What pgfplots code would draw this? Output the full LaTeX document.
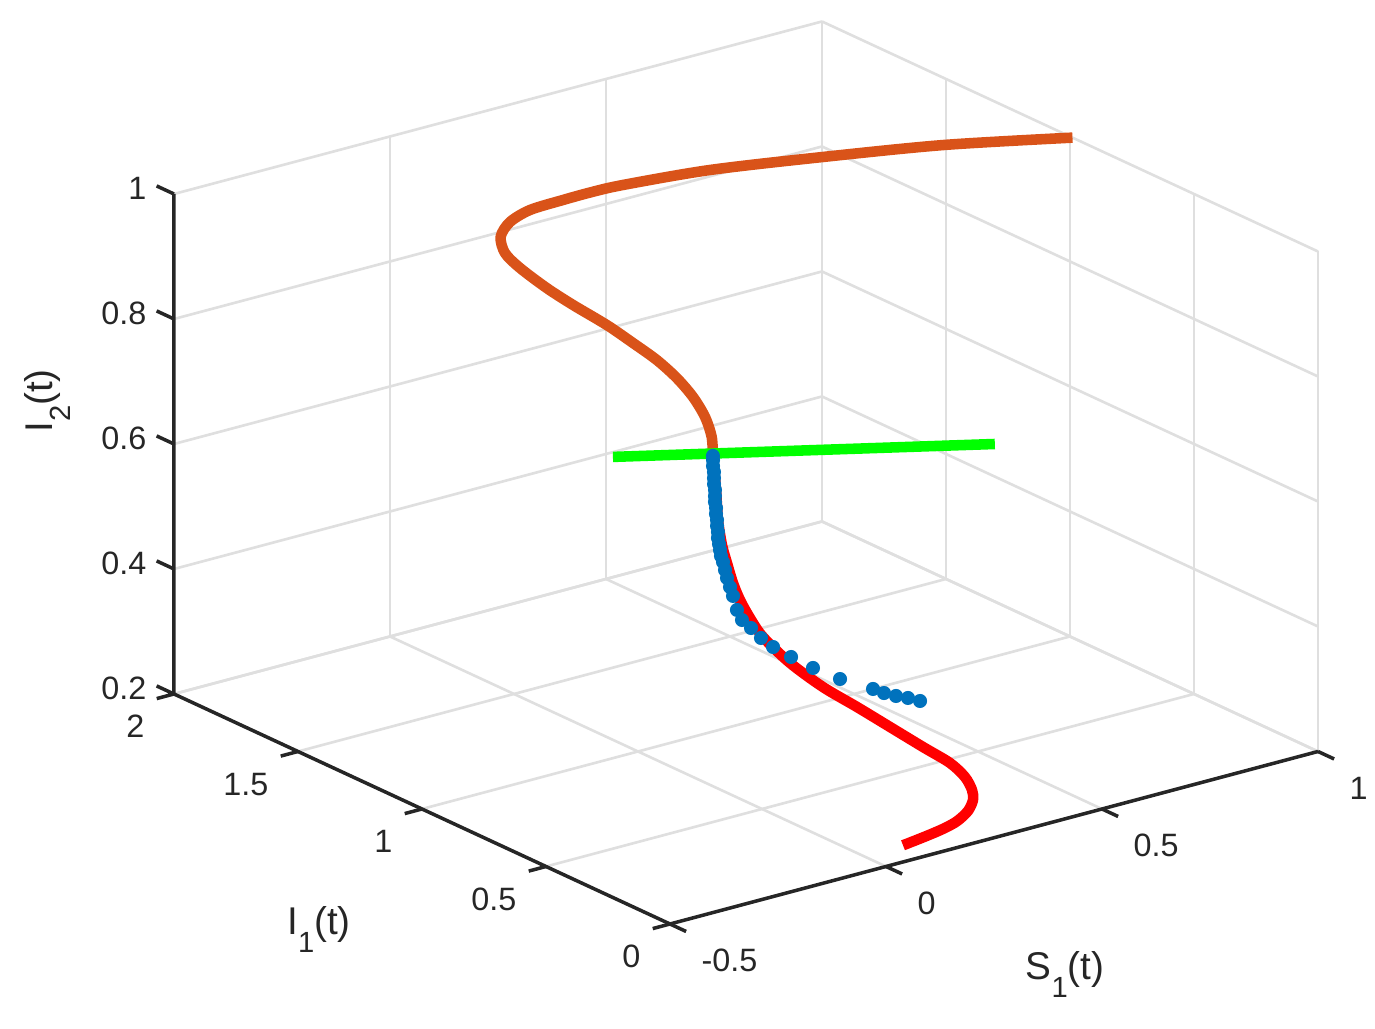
\documentclass[border=0pt]{standalone}
\usepackage{fontspec}
\setmainfont{Liberation Sans}
\usepackage{pgfplots}
\pgfplotsset{compat=1.18}
\usetikzlibrary{calc}
\definecolor{axiscol}{RGB}{38,38,38}
\definecolor{gridcol}{RGB}{223,223,223}
\definecolor{mOrange}{RGB}{217,83,25}
\definecolor{mBlue}{RGB}{0,114,189}
\definecolor{mRed}{RGB}{255,0,0}
\definecolor{mGreen}{RGB}{0,255,0}
\newcommand{\tickfont}{\fontsize{9.2}{11}\selectfont}
\newcommand{\labfont}{\fontsize{11}{13}\selectfont}
\newcommand{\sub}[1]{\raisebox{-5pt}{\fontsize{8.3}{10}\selectfont #1}}

\begin{document}
\begin{tikzpicture}
\begin{axis}[
  x={(4.32cm,1.15cm)}, y={(-2.48cm,1.15cm)}, z={(0cm,6.25cm)},
  xmin=-0.5, xmax=1, ymin=0, ymax=2, zmin=0.2, zmax=1,
  xtick={-0.5,0,0.5,1}, ytick={0,0.5,1,1.5,2}, ztick={0.2,0.4,0.6,0.8,1},
  xticklabels={}, yticklabels={}, zticklabels={},
  major tick length=0pt,
  grid=major, major grid style={gridcol, line width=0.75pt},
  axis line style={draw=none},
  clip=false,
]
  % orange trajectory, from (1,1,1) to the equilibrium
  \addplot3[mOrange, line width=3pt, smooth, line join=round] coordinates {
    (1.0,0.99,1.0) (0.8075,1.1729,0.99) (0.6113,1.3191,0.98) (0.4238,1.4479,0.97)
    (0.2681,1.5276,0.96) (0.2101,1.5516,0.955) (0.1522,1.5674,0.95) (0.0918,1.5952,0.94)
    (0.0441,1.5929,0.93) (0.0036,1.5599,0.92) (-0.0022,1.5326,0.90) (0.012,1.4967,0.88)
    (0.0373,1.4331,0.855) (0.0718,1.3869,0.83) (0.1174,1.3304,0.80) (0.1484,1.2786,0.775)
    (0.179,1.2362,0.75) (0.2009,1.1939,0.725) (0.2141,1.1511,0.70) (0.208,1.092,0.68)
    (0.194,1.0408,0.66) (0.1734,1.0,0.641)
  };
  % red trajectory
  \addplot3[mRed, line width=3pt, smooth, line join=round] coordinates {
    (0.1734,1.0,0.641) (0.1634,0.97,0.5938) (0.1507,0.94,0.5538) (0.1428,0.91,0.5206)
    (0.1371,0.88,0.4984) (0.1338,0.85,0.4726) (0.1328,0.82,0.451) (0.1329,0.78,0.4296)
    (0.14,0.74,0.4053) (0.1567,0.66,0.3754) (0.187,0.58,0.346) (0.22,0.5,0.3227)
    (0.2505,0.42,0.2998) (0.2808,0.34,0.277) (0.3088,0.28,0.2573) (0.3206,0.24,0.24)
    (0.3197,0.21,0.2249) (0.3047,0.18,0.2173) (0.2787,0.155,0.209) (0.2389,0.13,0.2045)
    (0.1951,0.11,0.2040) (0.1449,0.095,0.2037) (0.0853,0.08,0.2035)
  };
  % blue points
  \addplot3[only marks, mark=*, mark size=1.8pt, mBlue, mark options={draw=mBlue, fill=mBlue}] coordinates {
    (0.1734,1.0,0.641) (0.1725,0.998,0.635) (0.1685,0.991,0.6274) (0.1667,0.984,0.6194)
    (0.1627,0.977,0.6118) (0.1588,0.970,0.6042) (0.157,0.963,0.5963) (0.1535,0.957,0.5883)
    (0.1495,0.950,0.5809) (0.1479,0.943,0.573) (0.1438,0.936,0.5654) (0.1421,0.929,0.5574)
    (0.1382,0.922,0.5498) (0.1363,0.915,0.5418) (0.1329,0.909,0.5339) (0.1313,0.902,0.5259)
    (0.1296,0.895,0.5179) (0.1278,0.888,0.5099) (0.1285,0.881,0.5014) (0.1268,0.87,0.491)
    (0.1257,0.86,0.4802) (0.1269,0.85,0.4674) (0.1252,0.835,0.4562) (0.1229,0.815,0.4379)
    (0.1259,0.80,0.424) (0.1382,0.785,0.4117) (0.1498,0.765,0.3973) (0.1662,0.745,0.3835)
    (0.1935,0.72,0.3671) (0.2271,0.69,0.3489) (0.2667,0.65,0.3313) (0.3201,0.61,0.3129)
    (0.3398,0.60,0.3046) (0.3618,0.59,0.2977) (0.3838,0.58,0.2923) (0.406,0.57,0.2852)
  };
  % green segment
  \addplot3[mGreen, line width=3pt] coordinates {(-0.058,1,0.682) (0.826,1,0.540)};

  % front axes, ticks and tick labels
  \coordinate (A) at (axis cs:-0.5,0,0.2);
  \draw[axiscol, line width=1pt, line join=miter] (axis cs:1,0,0.2) -- (axis cs:-0.5,0,0.2)
    -- (axis cs:-0.5,2,0.2) -- (axis cs:-0.5,2,1);
  \draw[axiscol, line width=1pt]
    (axis cs:-0.5,0,0.2) -- (axis cs:-0.5,-0.065,0.2)
    (axis cs:0,0,0.2) -- (axis cs:0,-0.065,0.2)
    (axis cs:0.5,0,0.2) -- (axis cs:0.5,-0.065,0.2)
    (axis cs:1,0,0.2) -- (axis cs:1,-0.065,0.2)
    (axis cs:-0.5,0,0.2) -- (axis cs:-0.54,0,0.2)
    (axis cs:-0.5,0.5,0.2) -- (axis cs:-0.54,0.5,0.2)
    (axis cs:-0.5,1,0.2) -- (axis cs:-0.54,1,0.2)
    (axis cs:-0.5,1.5,0.2) -- (axis cs:-0.54,1.5,0.2)
    (axis cs:-0.5,2,0.2) -- (axis cs:-0.54,2,0.2)
    (axis cs:-0.5,2,0.2) -- (axis cs:-0.5,2.07,0.2)
    (axis cs:-0.5,2,0.4) -- (axis cs:-0.5,2.07,0.4)
    (axis cs:-0.5,2,0.6) -- (axis cs:-0.5,2.07,0.6)
    (axis cs:-0.5,2,0.8) -- (axis cs:-0.5,2.07,0.8)
    (axis cs:-0.5,2,1) -- (axis cs:-0.5,2.07,1);
  \begin{scope}[every node/.style={font=\tickfont, text=axiscol, inner sep=0pt}]
    \node[anchor=base west, xshift=0.31cm, yshift=-0.48cm] at (axis cs:-0.5,0,0.2) {-0.5};
    \node[anchor=base west, xshift=0.31cm, yshift=-0.48cm] at (axis cs:0,0,0.2) {0};
    \node[anchor=base west, xshift=0.31cm, yshift=-0.48cm] at (axis cs:0.5,0,0.2) {0.5};
    \node[anchor=base west, xshift=0.31cm, yshift=-0.48cm] at (axis cs:1,0,0.2) {1};
    \node[anchor=base east, xshift=-0.29cm, yshift=-0.44cm] at (axis cs:-0.5,0,0.2) {0};
    \node[anchor=base east, xshift=-0.29cm, yshift=-0.44cm] at (axis cs:-0.5,0.5,0.2) {0.5};
    \node[anchor=base east, xshift=-0.29cm, yshift=-0.44cm] at (axis cs:-0.5,1,0.2) {1};
    \node[anchor=base east, xshift=-0.29cm, yshift=-0.44cm] at (axis cs:-0.5,1.5,0.2) {1.5};
    \node[anchor=base east, xshift=-0.29cm, yshift=-0.44cm] at (axis cs:-0.5,2,0.2) {2};
    \node[anchor=east, xshift=-0.27cm, yshift=0.06cm] at (axis cs:-0.5,2,0.2) {0.2};
    \node[anchor=east, xshift=-0.27cm, yshift=0.06cm] at (axis cs:-0.5,2,0.4) {0.4};
    \node[anchor=east, xshift=-0.27cm, yshift=0.06cm] at (axis cs:-0.5,2,0.6) {0.6};
    \node[anchor=east, xshift=-0.27cm, yshift=0.06cm] at (axis cs:-0.5,2,0.8) {0.8};
    \node[anchor=east, xshift=-0.27cm, yshift=0.06cm] at (axis cs:-0.5,2,1) {1};
  \end{scope}
\end{axis}
\begin{scope}[every node/.style={font=\labfont, text=axiscol, inner sep=0pt}]
  \node[anchor=base] at ($(A)+(3.95,-0.56)$) {S\sub{1}(t)};
  \node[anchor=base] at ($(A)+(-3.51,-0.11)$) {I\sub{1}(t)};
  \node[anchor=base, rotate=90] at ($(A)+(-6.17,5.23)$) {I\sub{2}(t)};
\end{scope}
\pgfresetboundingbox
\path[use as bounding box] ($(A)+(-6.70,-1.05)$) rectangle ++(13.75,10.29);
\end{tikzpicture}
\end{document}
